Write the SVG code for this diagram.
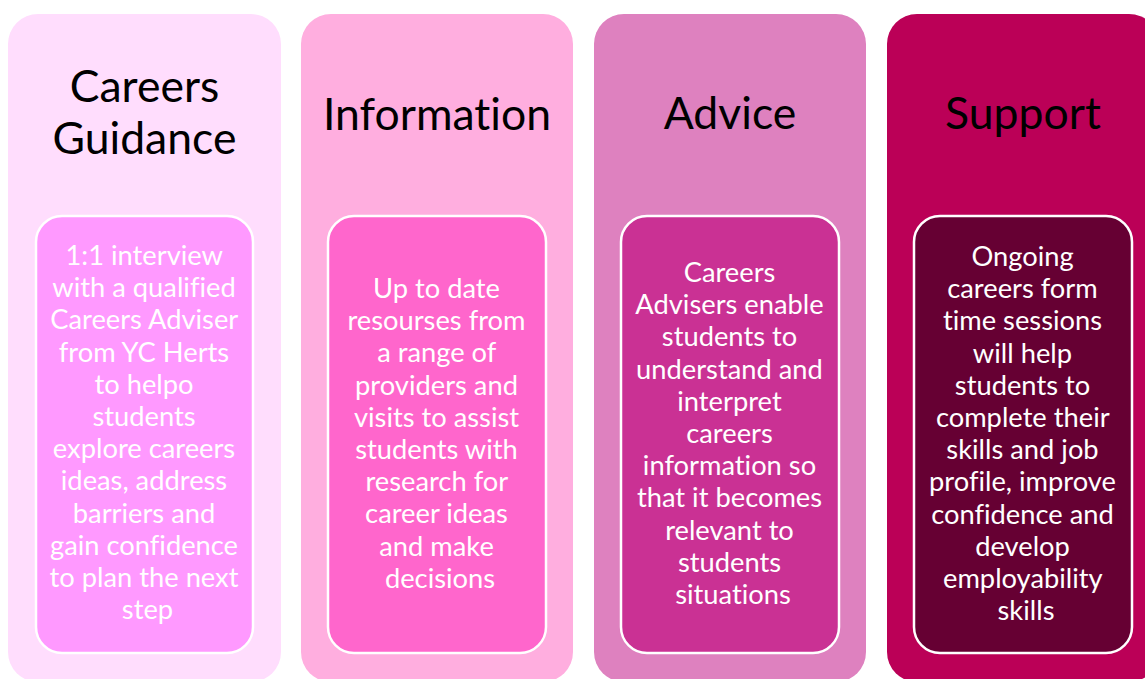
<svg xmlns="http://www.w3.org/2000/svg" width="1145" height="679" viewBox="0 0 1145 679">
<style>
.title{font-family:Lato,"Open Sans","Liberation Sans",sans-serif;font-size:44.5px;fill:#000;text-anchor:middle;font-variant-ligatures:none}
.body{font-family:Lato,"Open Sans","Liberation Sans",sans-serif;font-size:27.3px;fill:#fff;text-anchor:middle;font-variant-ligatures:none}
.inner{stroke:#fff;stroke-width:2.5}
</style>
<rect width="1145" height="679" fill="#fff"/>
<g id="careers-guidance">
<rect x="8" y="14" width="273" height="668" rx="30" fill="#FFDDFD"/>
<text class="title" x="144.5" y="102">Careers</text>
<text class="title" x="144.5" y="154">Guidance</text>
<rect class="inner" x="36" y="216" width="217" height="437" rx="26" fill="#FF99FF"/>
<text class="body">
<tspan x="147.5" y="265">1:1 interview</tspan>
<tspan x="147.5" dy="32.2">with a qualified</tspan>
<tspan x="147.5" dy="32.2">Careers Adviser</tspan>
<tspan x="147.5" dy="32.2">from YC Herts</tspan>
<tspan x="147.5" dy="32.2">to helpo</tspan>
<tspan x="147.5" dy="32.2">students</tspan>
<tspan x="147.5" dy="32.2">explore careers</tspan>
<tspan x="147.5" dy="32.2">ideas, address</tspan>
<tspan x="147.5" dy="32.2">barriers and</tspan>
<tspan x="147.5" dy="32.2">gain confidence</tspan>
<tspan x="147.5" dy="32.2">to plan the next</tspan>
<tspan x="147.5" dy="32.2">step</tspan>
</text>
</g>
<g id="information">
<rect x="301" y="14" width="272" height="668" rx="30" fill="#FFAEDF"/>
<text class="title" x="437" y="130">Information</text>
<rect class="inner" x="328" y="216" width="218" height="437" rx="26" fill="#FF66CC"/>
<text class="body">
<tspan x="440" y="298">Up to date</tspan>
<tspan x="440" dy="32.2">resourses from</tspan>
<tspan x="440" dy="32.2">a range of</tspan>
<tspan x="440" dy="32.2">providers and</tspan>
<tspan x="440" dy="32.2">visits to assist</tspan>
<tspan x="440" dy="32.2">students with</tspan>
<tspan x="440" dy="32.2">research for</tspan>
<tspan x="440" dy="32.2">career ideas</tspan>
<tspan x="440" dy="32.2">and make</tspan>
<tspan x="440" dy="32.2">decisions</tspan>
</text>
</g>
<g id="advice">
<rect x="594" y="14" width="272" height="668" rx="30" fill="#DE81BF"/>
<text class="title" x="730" y="129">Advice</text>
<rect class="inner" x="621" y="216" width="218" height="437" rx="26" fill="#CA3194"/>
<text class="body">
<tspan x="733" y="282">Careers</tspan>
<tspan x="733" dy="32.2">Advisers enable</tspan>
<tspan x="733" dy="32.2">students to</tspan>
<tspan x="733" dy="32.2">understand and</tspan>
<tspan x="733" dy="32.2">interpret</tspan>
<tspan x="733" dy="32.2">careers</tspan>
<tspan x="733" dy="32.2">information so</tspan>
<tspan x="733" dy="32.2">that it becomes</tspan>
<tspan x="733" dy="32.2">relevant to</tspan>
<tspan x="733" dy="32.2">students</tspan>
<tspan x="733" dy="32.2">situations</tspan>
</text>
</g>
<g id="support">
<rect x="887" y="14" width="272" height="668" rx="30" fill="#BB0057"/>
<text class="title" x="1023" y="129">Support</text>
<rect class="inner" x="914" y="216" width="218" height="437" rx="26" fill="#660033"/>
<text class="body">
<tspan x="1026" y="266">Ongoing</tspan>
<tspan x="1026" dy="32.2">careers form</tspan>
<tspan x="1026" dy="32.2">time sessions</tspan>
<tspan x="1026" dy="32.2">will help</tspan>
<tspan x="1026" dy="32.2">students to</tspan>
<tspan x="1026" dy="32.2">complete their</tspan>
<tspan x="1026" dy="32.2">skills and job</tspan>
<tspan x="1026" dy="32.2">profile, improve</tspan>
<tspan x="1026" dy="32.2">confidence and</tspan>
<tspan x="1026" dy="32.2">develop</tspan>
<tspan x="1026" dy="32.2">employability</tspan>
<tspan x="1026" dy="32.2">skills</tspan>
</text>
</g>
<g id="connectors"/>
</svg>
